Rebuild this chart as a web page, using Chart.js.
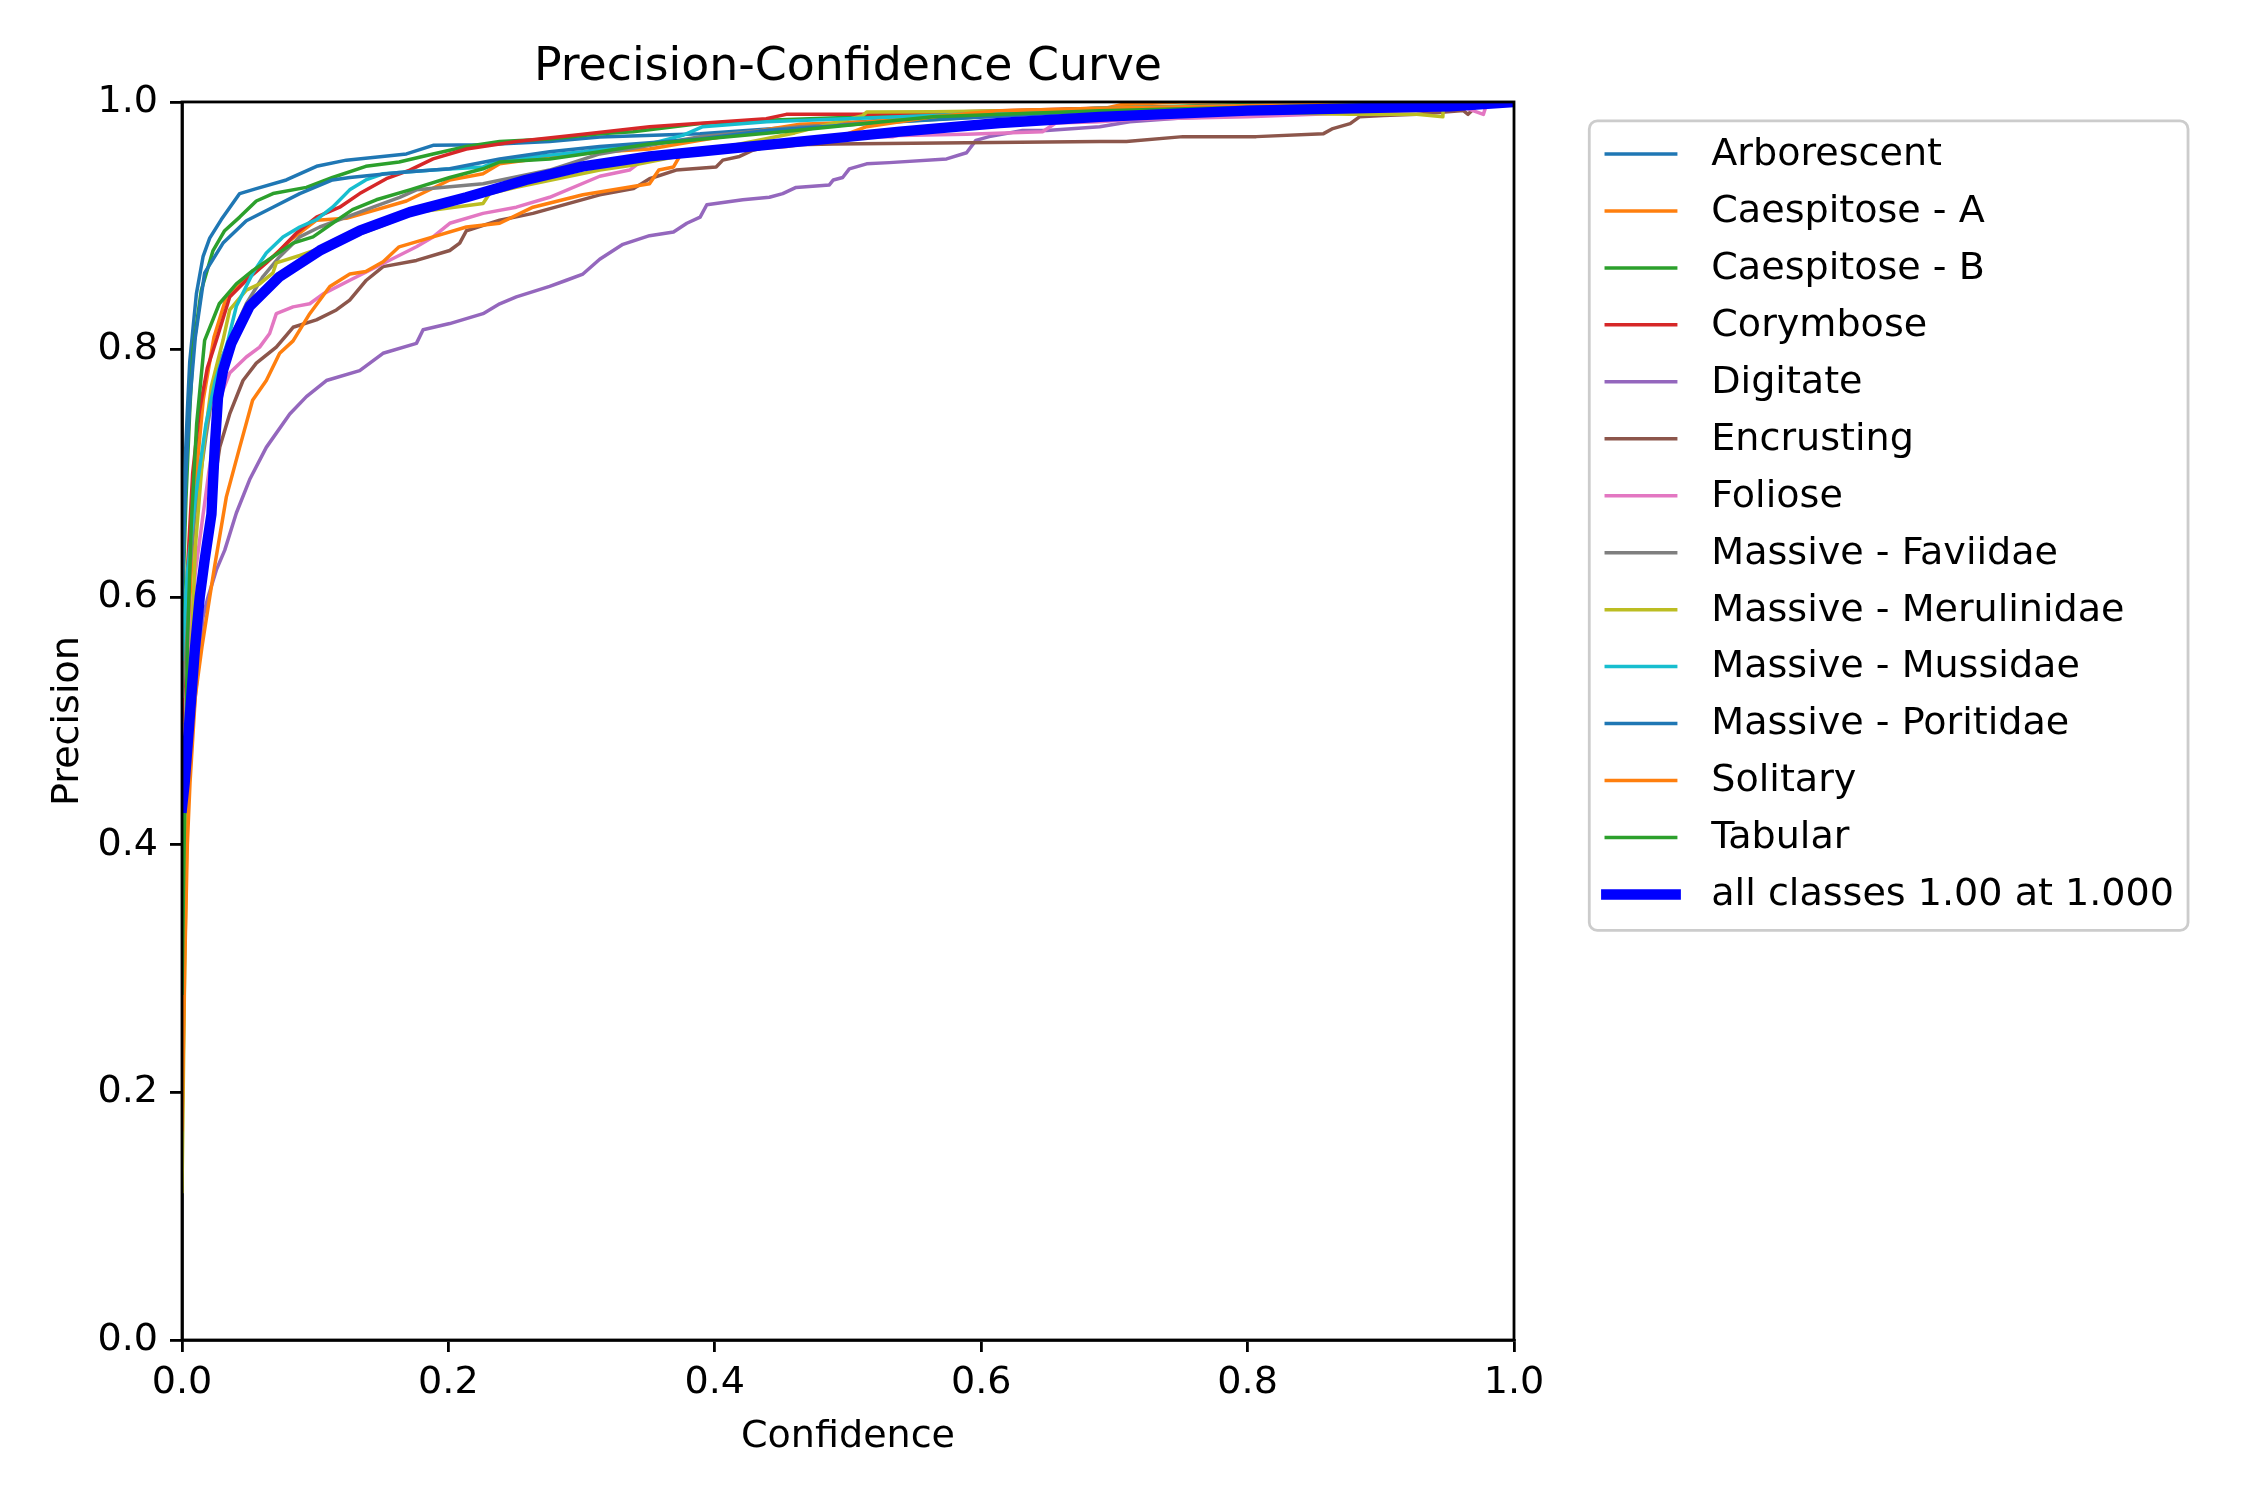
<!DOCTYPE html>
<html>
<head>
<meta charset="utf-8">
<title>Precision-Confidence Curve</title>
<script src="https://cdn.jsdelivr.net/npm/chart.js@4.4.1/dist/chart.umd.min.js"></script>
<style>
  html, body { margin: 0; padding: 0; background: #fff; }
  canvas { display: block; }
</style>
</head>
<body>
<canvas id="pc" width="2250" height="1500"></canvas>
<script>
// class names and matplotlib tab10 colours, same order as the legend
const classNames = ['Arborescent', 'Caespitose - A', 'Caespitose - B', 'Corymbose', 'Digitate',
  'Encrusting', 'Foliose', 'Massive - Faviidae', 'Massive - Merulinidae', 'Massive - Mussidae',
  'Massive - Poritidae', 'Solitary', 'Tabular'];
const classColors = ['#1f77b4', '#ff7f0e', '#2ca02c', '#d62728', '#9467bd', '#8c564b', '#e377c2',
  '#7f7f7f', '#bcbd22', '#17becf', '#1f77b4', '#ff7f0e', '#2ca02c'];

// [confidence, precision]
const arborescent = [[0,0.62],[0.002,0.70],[0.004,0.75],[0.0058,0.79],[0.0108,0.845],[0.0158,0.875],[0.0208,0.89],[0.0295,0.905],[0.0433,0.926],[0.0558,0.930],[0.0783,0.937],[0.101,0.948],[0.1234,0.953],[0.1685,0.958],[0.1885,0.965],[0.226,0.9655],[0.276,0.968],[0.3136,0.9717],[0.389,0.9744],[0.464,0.980],[0.539,0.9865],[0.689,0.9933],[0.85,0.997],[1,1]];
const caespitoseA = [[0,0.28],[0.003,0.48],[0.006,0.60],[0.010,0.69],[0.016,0.76],[0.024,0.81],[0.0333,0.8425],[0.0408,0.851],[0.0508,0.861],[0.0683,0.875],[0.0809,0.888],[0.101,0.9045],[0.1234,0.906],[0.1685,0.920],[0.201,0.937],[0.226,0.942],[0.2385,0.950],[0.276,0.9556],[0.3136,0.9596],[0.351,0.962],[0.389,0.969],[0.464,0.982],[0.514,0.984],[0.589,0.991],[0.689,0.994],[0.706,0.998],[0.75,1],[1,1]];
const caespitoseB = [[0,0.58],[0.003,0.68],[0.0058,0.75],[0.0083,0.80],[0.0145,0.848],[0.0233,0.880],[0.032,0.896],[0.0433,0.907],[0.0558,0.920],[0.0683,0.926],[0.0934,0.931],[0.113,0.939],[0.138,0.948],[0.163,0.9515],[0.1885,0.958],[0.2135,0.964],[0.2385,0.968],[0.276,0.970],[0.3136,0.9744],[0.3386,0.976],[0.389,0.9825],[0.439,0.9852],[0.514,0.988],[0.689,0.995],[0.8,0.998],[1,1]];
const corymbose = [[0,0.50],[0.004,0.62],[0.008,0.70],[0.013,0.75],[0.019,0.785],[0.0258,0.8075],[0.0358,0.8425],[0.0483,0.856],[0.0633,0.870],[0.0733,0.880],[0.0858,0.894],[0.101,0.907],[0.1184,0.915],[0.1334,0.926],[0.1534,0.938],[0.171,0.945],[0.1885,0.954],[0.2135,0.962],[0.251,0.968],[0.301,0.974],[0.351,0.980],[0.4386,0.9865],[0.4537,0.990],[0.514,0.990],[0.689,0.995],[0.85,0.998],[1,1]];
const digitate = [[0,0.38],[0.005,0.46],[0.010,0.52],[0.0133,0.557],[0.0158,0.584],[0.0195,0.600],[0.0258,0.622],[0.0321,0.638],[0.0408,0.668],[0.0508,0.695],[0.0633,0.721],[0.0809,0.748],[0.0934,0.762],[0.1084,0.775],[0.1334,0.783],[0.1509,0.797],[0.176,0.805],[0.181,0.816],[0.201,0.821],[0.226,0.829],[0.2385,0.837],[0.251,0.8425],[0.276,0.851],[0.2886,0.856],[0.301,0.861],[0.3136,0.873],[0.331,0.885],[0.351,0.892],[0.369,0.895],[0.379,0.902],[0.389,0.907],[0.394,0.917],[0.421,0.921],[0.441,0.923],[0.451,0.926],[0.461,0.931],[0.486,0.933],[0.489,0.937],[0.496,0.939],[0.501,0.946],[0.514,0.950],[0.531,0.951],[0.574,0.954],[0.589,0.959],[0.596,0.969],[0.606,0.972],[0.631,0.977],[0.649,0.977],[0.689,0.980],[0.7115,0.984],[0.75,0.987],[0.9,0.993],[0.97,0.997],[1,1]];
const encrusting = [[0,0.33],[0.006,0.47],[0.012,0.57],[0.017,0.63],[0.0208,0.668],[0.0283,0.721],[0.0358,0.748],[0.0458,0.775],[0.0558,0.789],[0.0708,0.802],[0.0834,0.818],[0.1009,0.824],[0.1159,0.832],[0.1259,0.840],[0.1384,0.856],[0.151,0.867],[0.176,0.872],[0.201,0.880],[0.2085,0.886],[0.2135,0.896],[0.2385,0.9045],[0.2635,0.910],[0.3136,0.925],[0.339,0.930],[0.351,0.938],[0.371,0.945],[0.401,0.9475],[0.406,0.953],[0.4186,0.956],[0.4286,0.961],[0.4436,0.965],[0.489,0.966],[0.689,0.968],[0.709,0.968],[0.7515,0.972],[0.8065,0.972],[0.857,0.9744],[0.864,0.9785],[0.877,0.9825],[0.884,0.988],[0.902,0.989],[0.927,0.990],[0.962,0.993],[0.9655,0.990],[0.975,1],[1,1]];
const foliose = [[0,0.45],[0.005,0.55],[0.010,0.62],[0.020,0.70],[0.030,0.765],[0.0358,0.781],[0.0483,0.794],[0.0583,0.802],[0.0658,0.813],[0.0708,0.829],[0.0834,0.8345],[0.0959,0.837],[0.106,0.845],[0.126,0.856],[0.151,0.8695],[0.176,0.883],[0.1885,0.891],[0.201,0.902],[0.226,0.910],[0.251,0.915],[0.276,0.923],[0.3136,0.940],[0.336,0.945],[0.346,0.953],[0.389,0.961],[0.464,0.969],[0.489,0.972],[0.534,0.972],[0.539,0.973],[0.589,0.974],[0.646,0.976],[0.656,0.983],[0.689,0.984],[0.714,0.986],[0.80,0.988],[0.902,0.992],[0.964,0.995],[0.977,0.990],[0.98,1],[1,1]];
const faviidae = [[0,0.52],[0.004,0.60],[0.010,0.67],[0.018,0.73],[0.026,0.785],[0.0358,0.8075],[0.0483,0.837],[0.0608,0.859],[0.0733,0.875],[0.0884,0.891],[0.1034,0.899],[0.1234,0.907],[0.1434,0.915],[0.1634,0.923],[0.176,0.929],[0.226,0.934],[0.276,0.945],[0.3136,0.958],[0.346,0.964],[0.389,0.972],[0.464,0.980],[0.689,0.993],[0.85,0.997],[1,1]];
const merulinidae = [[0,0.12],[0.002,0.30],[0.005,0.50],[0.010,0.64],[0.016,0.72],[0.022,0.77],[0.0308,0.8075],[0.0358,0.832],[0.0483,0.848],[0.0583,0.853],[0.0683,0.862],[0.0708,0.870],[0.0884,0.876],[0.12,0.888],[0.15,0.900],[0.176,0.911],[0.226,0.918],[0.231,0.926],[0.251,0.931],[0.3136,0.945],[0.339,0.949],[0.40,0.962],[0.46,0.975],[0.511,0.989],[0.514,0.9918],[0.564,0.992],[0.689,0.994],[0.877,0.990],[0.927,0.990],[0.9466,0.988],[0.947,1],[1,1]];
const mussidae = [[0,0.55],[0.004,0.62],[0.010,0.68],[0.018,0.74],[0.025,0.775],[0.0346,0.8075],[0.0408,0.835],[0.0533,0.862],[0.0633,0.878],[0.0758,0.891],[0.0884,0.899],[0.101,0.905],[0.113,0.915],[0.1259,0.929],[0.138,0.937],[0.151,0.942],[0.1885,0.945],[0.226,0.9475],[0.2385,0.953],[0.301,0.9597],[0.3136,0.962],[0.351,0.966],[0.376,0.973],[0.391,0.980],[0.439,0.984],[0.564,0.989],[0.689,0.995],[0.85,0.998],[1,1]];
const poritidae = [[0,0.60],[0.003,0.70],[0.006,0.76],[0.010,0.81],[0.017,0.862],[0.0308,0.886],[0.0483,0.904],[0.0683,0.915],[0.0884,0.926],[0.113,0.937],[0.126,0.939],[0.163,0.943],[0.201,0.946],[0.2385,0.954],[0.276,0.9597],[0.3136,0.964],[0.351,0.967],[0.389,0.970],[0.439,0.977],[0.514,0.9825],[0.689,0.993],[0.85,0.997],[1,1]];
const solitary = [[0,0.17],[0.002,0.30],[0.004,0.40],[0.006,0.45],[0.010,0.52],[0.015,0.56],[0.0208,0.60],[0.0245,0.625],[0.0333,0.681],[0.0433,0.721],[0.053,0.759],[0.0633,0.775],[0.0733,0.797],[0.0834,0.807],[0.0959,0.829],[0.111,0.851],[0.126,0.861],[0.138,0.863],[0.151,0.871],[0.163,0.883],[0.1885,0.891],[0.2135,0.899],[0.2385,0.902],[0.2635,0.915],[0.301,0.925],[0.351,0.934],[0.358,0.945],[0.369,0.9475],[0.3736,0.956],[0.389,0.958],[0.426,0.962],[0.454,0.964],[0.479,0.968],[0.494,0.972],[0.514,0.980],[0.564,0.988],[0.614,0.993],[0.689,0.995],[0.85,0.998],[1,1]];
const tabular = [[0,0.28],[0.002,0.43],[0.004,0.56],[0.007,0.66],[0.011,0.74],[0.017,0.8075],[0.028,0.837],[0.0408,0.853],[0.0533,0.864],[0.0683,0.875],[0.0834,0.886],[0.0984,0.891],[0.113,0.902],[0.128,0.913],[0.1459,0.921],[0.171,0.929],[0.201,0.939],[0.226,0.946],[0.2385,0.9515],[0.276,0.954],[0.3136,0.9597],[0.351,0.966],[0.451,0.976],[0.564,0.988],[0.689,0.993],[0.85,0.997],[1,1]];
const allClasses = [[0,0.43],[0.002,0.45],[0.0058,0.503],[0.0096,0.557],[0.0133,0.60],[0.017,0.63],[0.0221,0.667],[0.0246,0.721],[0.027,0.761],[0.0308,0.783],[0.037,0.805],[0.0508,0.835],[0.0733,0.859],[0.1034,0.880],[0.1334,0.896],[0.171,0.911],[0.2135,0.923],[0.258,0.937],[0.301,0.948],[0.351,0.956],[0.389,0.960],[0.4637,0.968],[0.539,0.976],[0.614,0.983],[0.689,0.988],[0.80,0.993],[0.952,0.9964],[1,1]];
const allLabel = 'all classes 1.00 at 1.000';

const classCurves = [arborescent, caespitoseA, caespitoseB, corymbose, digitate, encrusting, foliose,
  faviidae, merulinidae, mussidae, poritidae, solitary, tabular];
const axisTicks = [0, 0.2, 0.4, 0.6, 0.8, 1.0];

const FONT = 'DejaVu Sans';
const FS = 38.1;
const THIN = 3.5;
const THICK = 10.4;

function toPoints(arr) {
  return arr.map(p => ({x: p[0], y: p[1]}));
}

const datasets = classCurves.map((c, i) => ({
  label: classNames[i],
  data: toPoints(c),
  borderColor: classColors[i],
  borderWidth: THIN,
  order: -i
}));
datasets.push({
  label: allLabel,
  data: toPoints(allClasses),
  borderColor: '#0000ff',
  borderWidth: THICK,
  order: -100
});
datasets.forEach(d => {
  d.pointRadius = 0;
  d.tension = 0;
  d.fill = false;
  d.clip = 0;
  d.borderCapStyle = 'square';
  d.borderJoinStyle = 'round';
});

// box spines + matplotlib style legend outside the axes
const frameAndLegend = {
  id: 'frameAndLegend',
  afterDatasetsDraw(chart) {
    const {ctx, chartArea: a} = chart;
    ctx.save();
    ctx.strokeStyle = '#000';
    ctx.lineWidth = 2.8;
    ctx.strokeRect(a.left, a.top, a.right - a.left, a.bottom - a.top);
    ctx.restore();
  },
  afterDraw(chart) {
    const {ctx, chartArea: a} = chart;
    const dsets = chart.data.datasets;
    ctx.save();
    ctx.font = FS + 'px "' + FONT + '"';
    let maxW = 0;
    dsets.forEach(d => { maxW = Math.max(maxW, ctx.measureText(d.label).width); });
    const left = a.right + 0.04 * (a.right - a.left) + 22;
    const top = a.top + 19;
    const rowH = 56.96;
    const textX = left + 122;
    const w = textX - left + maxW + 14;
    const h = rowH * dsets.length + 12;
    ctx.fillStyle = 'rgba(255,255,255,0.8)';
    ctx.strokeStyle = '#cccccc';
    ctx.lineWidth = 2.8;
    ctx.beginPath();
    if (ctx.roundRect) ctx.roundRect(left, top, w, h, 8); else ctx.rect(left, top, w, h);
    ctx.fill();
    ctx.stroke();
    dsets.forEach((d, i) => {
      const y = top + 33 + i * rowH;
      ctx.strokeStyle = d.borderColor;
      ctx.lineWidth = d.borderWidth;
      ctx.lineCap = 'square';
      ctx.beginPath();
      ctx.moveTo(left + 17, y);
      ctx.lineTo(left + 17 + 69.4, y);
      ctx.stroke();
      ctx.fillStyle = '#000';
      ctx.textAlign = 'left';
      ctx.textBaseline = 'middle';
      ctx.fillText(d.label, textX, y + 1);
    });
    ctx.restore();
  }
};

function axisScale(titleText, isY) {
  return {
    type: 'linear',
    min: 0,
    max: 1,
    afterBuildTicks(scale) {
      scale.ticks = axisTicks.map(v => ({value: v}));
    },
    afterFit(scale) {
      if (isY) scale.width = 182; else scale.height = 160;
    },
    ticks: {
      color: '#000',
      padding: isY ? 12 : 8,
      maxRotation: 0,
      autoSkip: false,
      font: {family: FONT, size: FS},
      callback: v => Number(v).toFixed(1)
    },
    grid: {
      drawOnChartArea: false,
      drawTicks: true,
      tickLength: 12,
      tickColor: '#000',
      tickWidth: 2.8,
      color: '#000',
      lineWidth: 2.8
    },
    border: {display: true, color: '#000', width: 2.8},
    title: {
      display: true,
      text: titleText,
      color: '#000',
      font: {family: FONT, size: FS},
      padding: isY ? {top: 45, bottom: 0} : {top: 0, bottom: 40}
    }
  };
}

new Chart(document.getElementById('pc'), {
  type: 'line',
  data: {datasets: datasets},
  options: {
    responsive: false,
    animation: false,
    devicePixelRatio: 1,
    layout: {padding: {left: 0, top: 0, right: 736, bottom: 0}},
    scales: {
      x: axisScale('Confidence', false),
      y: axisScale('Precision', true)
    },
    plugins: {
      legend: {display: false},
      tooltip: {enabled: false},
      title: {
        display: true,
        text: 'Precision-Confidence Curve',
        color: '#000',
        fullSize: false,
        font: {family: FONT, size: 45.8, weight: 'normal', lineHeight: 1.2},
        padding: {top: 41, bottom: 6}
      }
    }
  },
  plugins: [frameAndLegend]
});
</script>
</body>
</html>
